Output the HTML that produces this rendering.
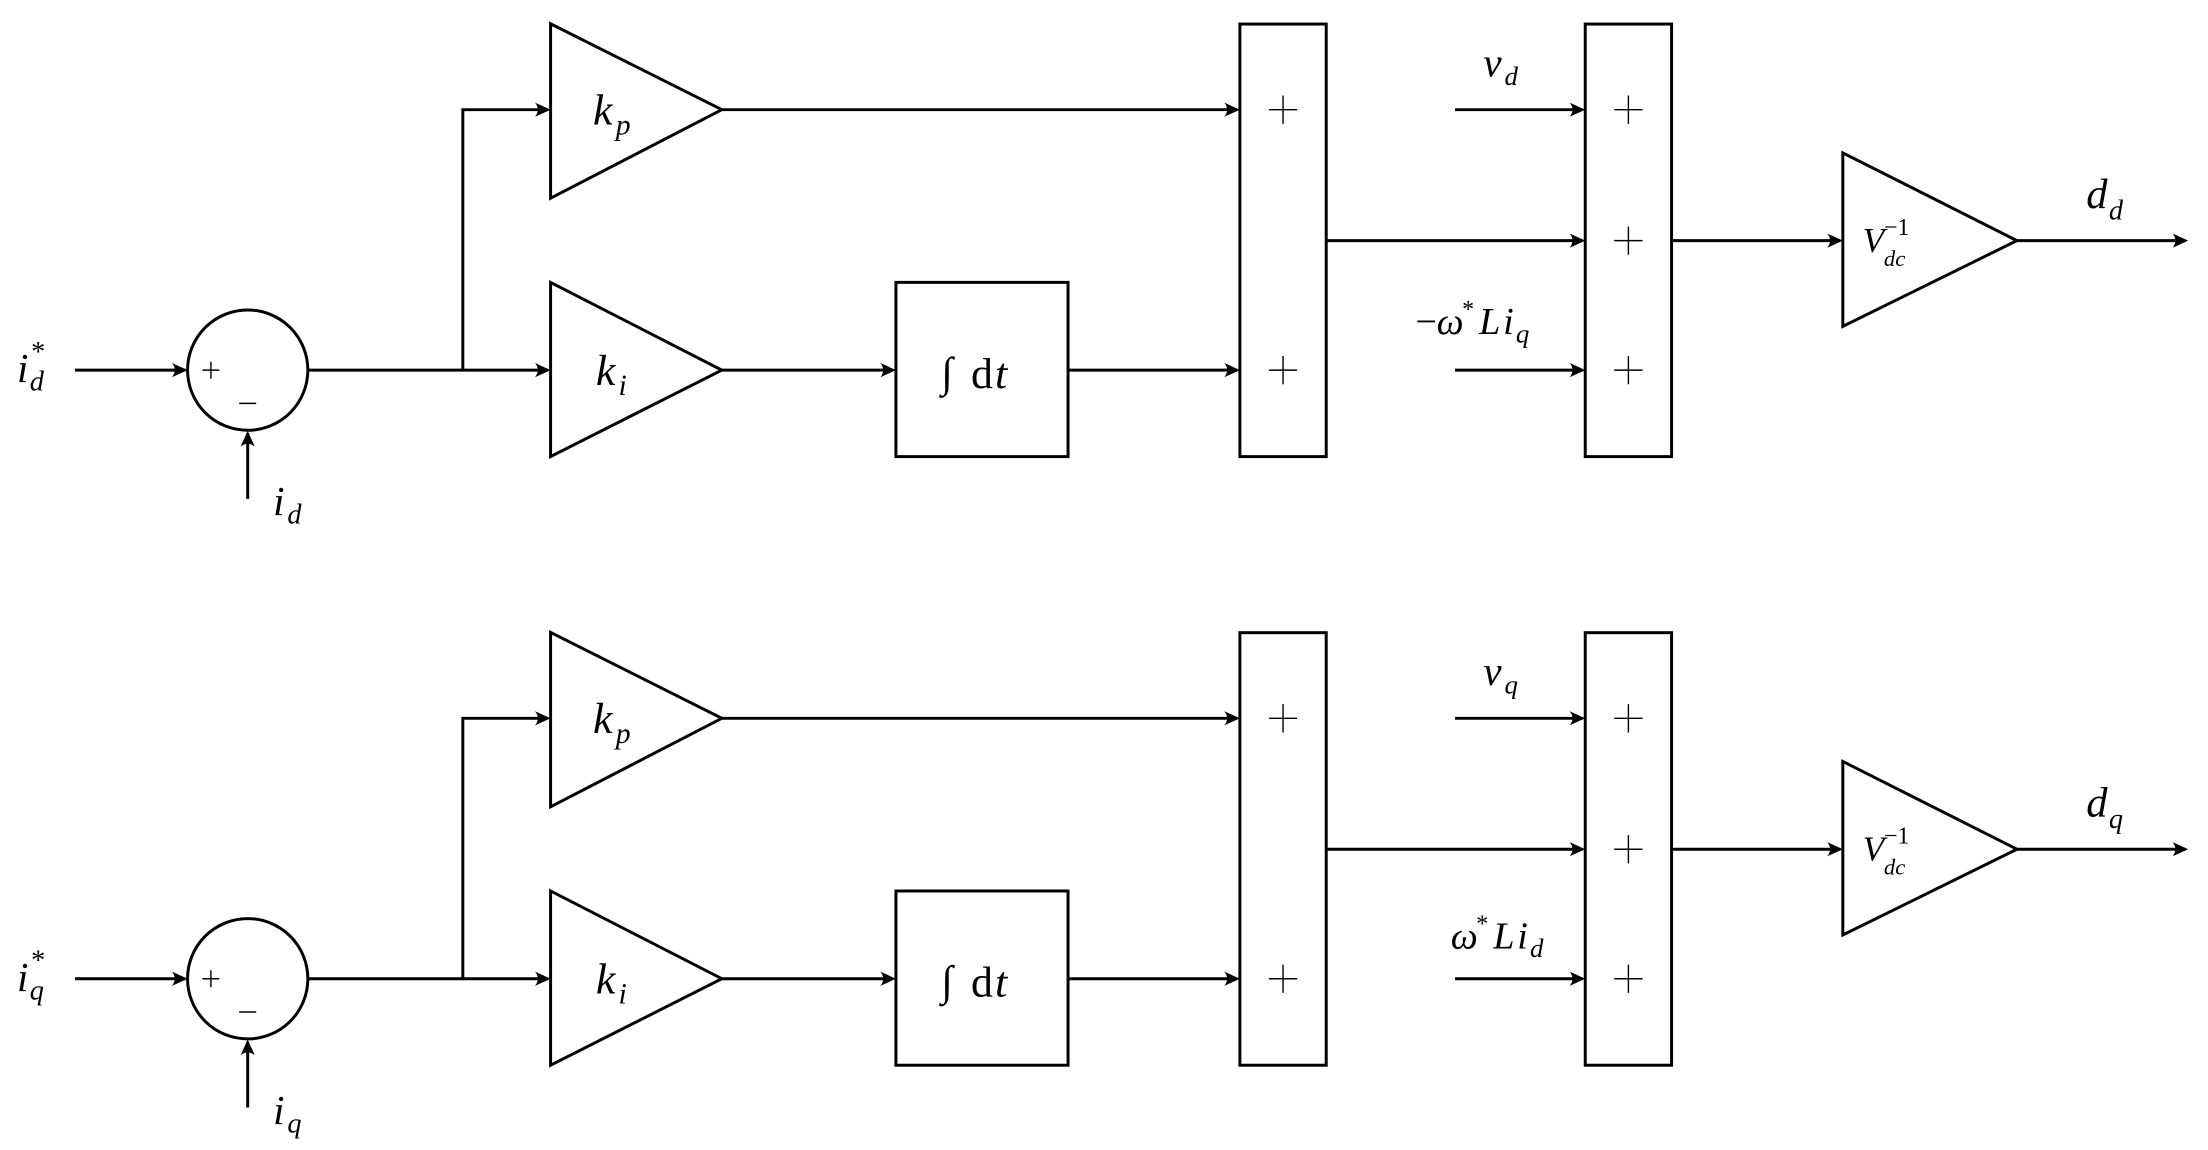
<!DOCTYPE html>
<html><head><meta charset="utf-8"><style>
html,body{margin:0;padding:0;background:#fff;}
svg{display:block;}
text{font-family:"Liberation Serif",serif;font-style:italic;fill:#000;}
.n{font-style:normal;}
</style></head><body>
<svg width="2208" height="1150" viewBox="0 0 1560 812.5" xmlns="http://www.w3.org/2000/svg">
<defs>
<path id="ah" d="M0,0 L-11,-5 Q-7,0 -11,5 Z" fill="#000"/>
<g id="half" fill="none" stroke="#000" stroke-width="2.1">
  <!-- input -->
  <line x1="53" y1="261.5" x2="131" y2="261.5"/>
  <circle cx="175" cy="261.5" r="42.5"/>
  <line x1="175" y1="352.5" x2="175" y2="306"/>
  <line x1="217.5" y1="261.5" x2="387" y2="261.5"/>
  <polyline points="327,261.5 327,77.5 387,77.5"/>
  <!-- gains -->
  <polygon points="389,16.8 389,140 510,77.5"/>
  <polygon points="389,199.5 389,322.6 510,261.5"/>
  <line x1="510" y1="77.5" x2="874" y2="77.5"/>
  <line x1="510" y1="261.5" x2="630" y2="261.5"/>
  <rect x="633" y="199.5" width="121.6" height="123.1"/>
  <line x1="754.6" y1="261.5" x2="874" y2="261.5"/>
  <rect x="876" y="17" width="61" height="305.6"/>
  <line x1="937" y1="170" x2="1118" y2="170"/>
  <line x1="1028" y1="77.5" x2="1118" y2="77.5"/>
  <line x1="1028" y1="261.5" x2="1118" y2="261.5"/>
  <rect x="1120" y="17" width="61" height="305.6"/>
  <line x1="1181" y1="170" x2="1300" y2="170"/>
  <polygon points="1302,108 1302,230.6 1425,170"/>
  <line x1="1425" y1="170" x2="1544" y2="170"/>
  <!-- plus signs -->
  <g stroke-width="1">
    <path d="M896.5,77.5 h20 M906.5,67.5 v20"/>
    <path d="M896.5,261.5 h20 M906.5,251.5 v20"/>
    <path d="M1140.5,77.5 h20 M1150.5,67.5 v20"/>
    <path d="M1140.5,170 h20 M1150.5,160 v20"/>
    <path d="M1140.5,261.5 h20 M1150.5,251.5 v20"/>
    <path d="M143,261.5 h12 M149,255.5 v12"/>
    <path d="M169,285 h12"/>
  </g>
</g>
<g id="arrows">
  <use href="#ah" x="132.5" y="261.5"/>
  <use href="#ah" transform="translate(175,304.5) rotate(-90)"/>
  <use href="#ah" x="389" y="77.5"/>
  <use href="#ah" x="389" y="261.5"/>
  <use href="#ah" x="633" y="261.5"/>
  <use href="#ah" x="876" y="77.5"/>
  <use href="#ah" x="876" y="261.5"/>
  <use href="#ah" x="1120" y="77.5"/>
  <use href="#ah" x="1120" y="170"/>
  <use href="#ah" x="1120" y="261.5"/>
  <use href="#ah" x="1302" y="170"/>
  <use href="#ah" x="1546" y="170"/>
</g>
</defs>

<use href="#half"/><use href="#arrows"/>
<g transform="translate(0,430)"><use href="#half"/><use href="#arrows"/></g>

<!-- top labels -->
<text x="12" y="270" font-size="29">i</text><text x="21" y="276" font-size="20">d</text><text x="22" y="255" font-size="20" class="n">*</text>
<text x="193" y="364" font-size="29">i</text><text x="203" y="370" font-size="20">d</text>
<text x="419" y="88" font-size="31">k</text><text x="435" y="95" font-size="21">p</text>
<text x="421" y="272" font-size="31">k</text><text x="437" y="279" font-size="21">i</text>
<text x="665" y="273" font-size="30">∫</text><text x="686" y="274" font-size="31" class="n">d</text><text x="703" y="274" font-size="31">t</text>
<text x="1048" y="54" font-size="29">v</text><text x="1063" y="60" font-size="19">d</text>
<text x="1000" y="236" font-size="27" class="n">−</text><text x="1015" y="236" font-size="27">ω</text><text x="1033" y="224" font-size="17" class="n">*</text><text x="1045" y="236" font-size="27">L</text><text x="1062" y="236" font-size="27">i</text><text x="1071" y="242" font-size="19">q</text>
<text x="1316" y="178" font-size="25">V</text><text x="1331" y="188" font-size="16">dc</text><text x="1331" y="166" font-size="17" class="n">−1</text>
<text x="1474" y="147" font-size="30">d</text><text x="1490" y="155" font-size="20">d</text>

<!-- bottom labels -->
<text x="12" y="700" font-size="29">i</text><text x="21" y="706" font-size="20">q</text><text x="22" y="685" font-size="20" class="n">*</text>
<text x="193" y="794" font-size="29">i</text><text x="203" y="800" font-size="20">q</text>
<text x="419" y="518" font-size="31">k</text><text x="435" y="525" font-size="21">p</text>
<text x="421" y="702" font-size="31">k</text><text x="437" y="709" font-size="21">i</text>
<text x="665" y="703" font-size="30">∫</text><text x="686" y="704" font-size="31" class="n">d</text><text x="703" y="704" font-size="31">t</text>
<text x="1048" y="484" font-size="29">v</text><text x="1063" y="490" font-size="19">q</text>
<text x="1025" y="670" font-size="27">ω</text><text x="1043" y="658" font-size="17" class="n">*</text><text x="1055" y="670" font-size="27">L</text><text x="1072" y="670" font-size="27">i</text><text x="1081" y="676" font-size="19">d</text>
<text x="1316" y="608" font-size="25">V</text><text x="1331" y="618" font-size="16">dc</text><text x="1331" y="596" font-size="17" class="n">−1</text>
<text x="1474" y="577" font-size="30">d</text><text x="1490" y="585" font-size="20">q</text>
</svg>
</body></html>
